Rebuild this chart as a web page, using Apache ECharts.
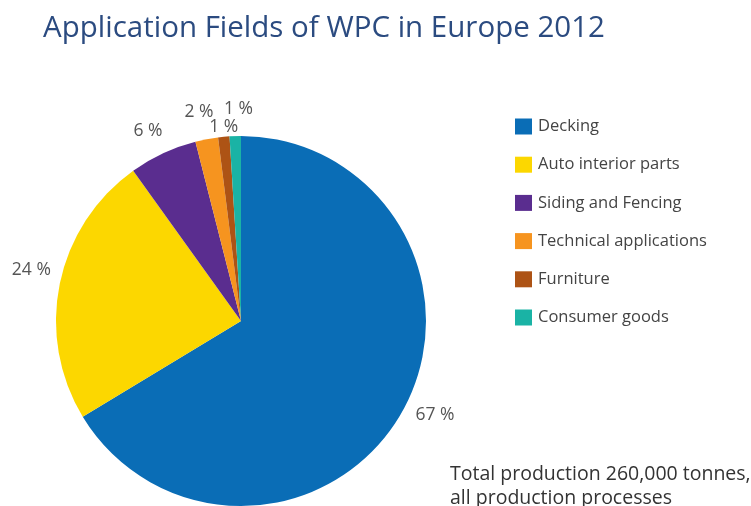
<!DOCTYPE html>
<html>
<head>
<meta charset="utf-8">
<script src="https://cdn.jsdelivr.net/npm/echarts@6/dist/echarts.min.js"></script>
<style>
html,body{margin:0;padding:0;background:#fff;}
#chart{width:751px;height:506px;}
</style>
</head>
<body>
<div id="chart"></div>
<script>
const categories = ['Decking','Auto interior parts','Siding and Fencing','Technical applications','Furniture','Consumer goods'];
const shares = [67, 24, 6, 2, 1, 1];
const colors = ['#0a6db6','#fcd700','#5a2d8f','#f6941f','#ad5315','#1ab3a5'];
const labelShift = [[3,0],[2,-13],[7,-17],[13,-21],[20,-4],[23,-21]];

const chart = echarts.init(document.getElementById('chart'));
chart.setOption({
  animation:false,
  title:{
    text:'Application Fields of WPC in Europe 2012',
    left:38, top:9,
    textStyle:{fontFamily:'Open Sans', fontWeight:'normal', fontSize:29.5, color:'#2b4b80'}
  },
  legend:{
    orient:'vertical', left:510, top:113,
    itemWidth:17, itemHeight:16, itemGap:21.2,
    icon:'rect',
    textStyle:{fontFamily:'Open Sans', fontSize:16.5, color:'#444', padding:[0,0,0,1]},
    data:categories
  },
  graphic:[{
    type:'text', left:450, top:462,
    style:{text:'Total production 260,000 tonnes,\nall production processes', fontFamily:'Open Sans', fontSize:19.5, lineHeight:24, fill:'#333'}
  }],
  series:[{
    type:'pie',
    center:[241,321], radius:185,
    startAngle:90, clockwise:true,
    avoidLabelOverlap:false,
    color:colors,
    label:{
      show:true, position:'outside',
      formatter: p => p.value + ' %',
      fontFamily:'Open Sans', fontSize:17.5, color:'#555'
    },
    labelLine:{show:false, length:6, length2:0},
    labelLayout: p => ({dx: labelShift[p.dataIndex][0], dy: labelShift[p.dataIndex][1]}),
    itemStyle:{borderWidth:0},
    emphasis:{disabled:true},
    data: categories.map((c,i)=>({name:c, value:shares[i]}))
  }]
});
</script>
</body>
</html>
